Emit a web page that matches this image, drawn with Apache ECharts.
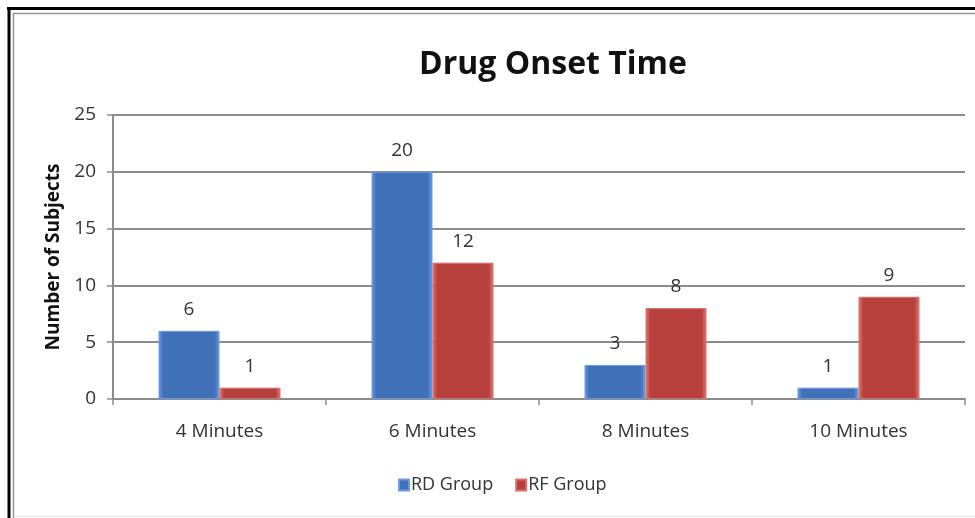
<!DOCTYPE html>
<html>
<head>
<meta charset="utf-8">
<script src="https://cdn.jsdelivr.net/npm/echarts@6/dist/echarts.min.js"></script>
<style>
  html, body { margin: 0; padding: 0; background: #fff; }
  #chart { width: 975px; height: 518px; }
</style>
</head>
<body>
<div id="chart"></div>
<script>
// Onset time buckets and subject counts per group
const categories = ['4 Minutes', '6 Minutes', '8 Minutes', '10 Minutes'];
const rdGroup = [6, 20, 3, 1];
const rfGroup = [1, 12, 8, 9];
const seriesNames = ['RD Group', 'RF Group'];

const FONT = '"Open Sans", "Noto Sans", sans-serif';

// horizontal bevel fill: lighter rim on both sides of each bar
function bevel(mid, edge) {
  return {
    type: 'linear', x: 0, y: 0, x2: 1, y2: 0,
    colorStops: [
      { offset: 0, color: edge },
      { offset: 0.08, color: mid },
      { offset: 0.92, color: mid },
      { offset: 1, color: edge }
    ]
  };
}

const chart = echarts.init(document.getElementById('chart'), null, { renderer: 'canvas' });

const labelStyle = {
  show: true,
  position: 'top',
  distance: 12,
  color: '#333',
  fontSize: 19,
  fontFamily: FONT
};

chart.setOption({
  animation: false,
  backgroundColor: '#fff',
  title: {
    text: 'Drug Onset Time',
    left: 548,
    top: 44,
    textAlign: 'center',
    textStyle: { fontSize: 32, fontWeight: 'bold', color: '#111', fontFamily: FONT }
  },
  legend: {
    data: seriesNames,
    left: 393,
    top: 471,
    itemWidth: 10,
    itemHeight: 11,
    itemGap: 22,
    icon: 'rect',
    textStyle: { fontSize: 18, color: '#333', fontFamily: FONT, padding: [0, 0, 0, -3] }
  },
  grid: { left: 113, right: 10, top: 115, bottom: 119, containLabel: false },
  xAxis: {
    type: 'category',
    data: categories,
    axisLine: { lineStyle: { color: '#8c8c8c', width: 2 } },
    axisTick: { show: true, length: 6, lineStyle: { color: '#8c8c8c', width: 1.5 } },
    axisLabel: { color: '#333', fontSize: 19, margin: 23, fontFamily: FONT },
    splitLine: { show: false }
  },
  yAxis: {
    type: 'value',
    min: 0,
    max: 25,
    interval: 5,
    name: 'Number of Subjects',
    nameLocation: 'middle',
    nameGap: 48,
    nameTextStyle: { fontSize: 19, fontWeight: 'bold', color: '#111', fontFamily: FONT },
    axisLine: { show: true, lineStyle: { color: '#8c8c8c', width: 2 } },
    axisTick: { show: true, length: 6, lineStyle: { color: '#8c8c8c', width: 1.5 } },
    axisLabel: { color: '#333', fontSize: 19, margin: 17, fontFamily: FONT },
    splitLine: { lineStyle: { color: '#8c8c8c', width: 2 } }
  },
  series: [
    {
      name: seriesNames[0],
      type: 'bar',
      data: rdGroup,
      barWidth: 61,
      barGap: '0%',
      itemStyle: {
        color: bevel('#3f70b8', '#6a9ce0'),
        borderColor: '#6b9be0',
        borderWidth: 1
      },
      label: labelStyle
    },
    {
      name: seriesNames[1],
      type: 'bar',
      data: rfGroup,
      barWidth: 61,
      barGap: '0%',
      itemStyle: {
        color: bevel('#b8403c', '#e07a74'),
        borderColor: '#d9706a',
        borderWidth: 1
      },
      label: labelStyle
    }
  ],
  graphic: [
    // outer frame: heavy black line with a thin grey rule inside
    { type: 'line', shape: { x1: 9, y1: 7, x2: 9, y2: 518 }, style: { stroke: '#000', lineWidth: 3 } },
    { type: 'line', shape: { x1: 7, y1: 8.5, x2: 975, y2: 8.5 }, style: { stroke: '#000', lineWidth: 3 } },
    { type: 'line', shape: { x1: 13.5, y1: 13, x2: 13.5, y2: 518 }, style: { stroke: '#999', lineWidth: 1.5 } },
    { type: 'line', shape: { x1: 13, y1: 13.5, x2: 975, y2: 13.5 }, style: { stroke: '#999', lineWidth: 1.5 } },
    { type: 'line', shape: { x1: 14, y1: 516.5, x2: 975, y2: 516.5 }, style: { stroke: '#e6e6e6', lineWidth: 1 } }
  ]
});
</script>
</body>
</html>
